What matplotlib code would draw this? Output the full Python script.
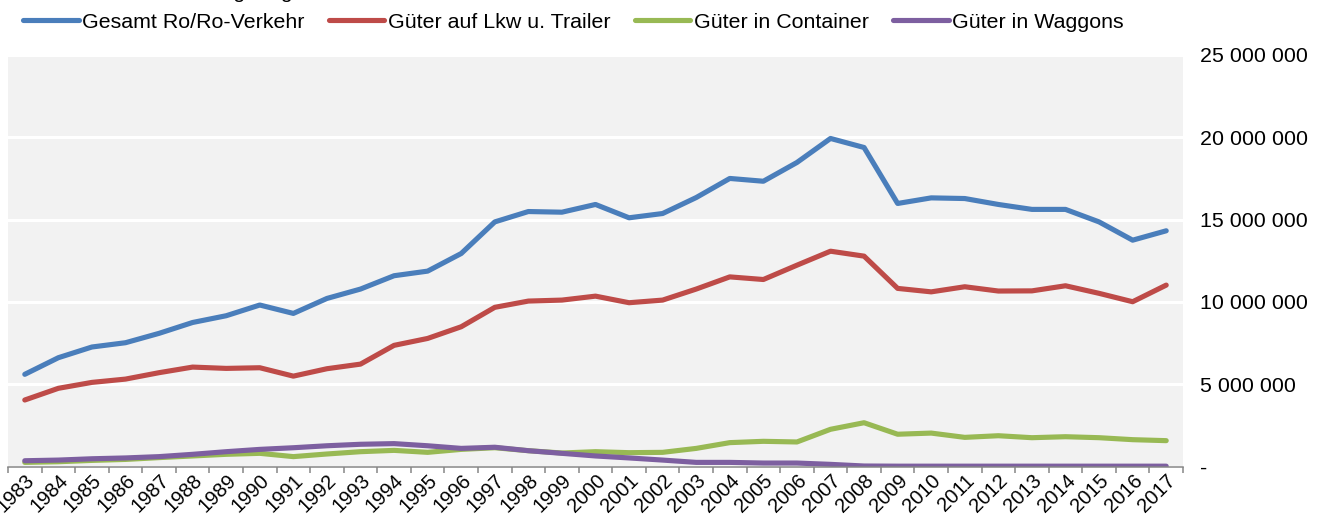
import matplotlib
matplotlib.use("Agg")
import matplotlib.pyplot as plt
from matplotlib.ticker import FuncFormatter, FixedLocator

# Ro/Ro-Verkehr, Tonnen je Jahr
years = list(range(1983, 2018))
gesamt = [5.60, 6.61, 7.26, 7.52, 8.09, 8.75, 9.16, 9.81, 9.30, 10.21,
          10.78, 11.59, 11.87, 12.94, 14.86, 15.49, 15.45, 15.92, 15.11, 15.37,
          16.34, 17.50, 17.33, 18.47, 19.93, 19.38, 15.98, 16.32, 16.28, 15.92,
          15.62, 15.62, 14.86, 13.75, 14.32]
lkw = [4.04, 4.75, 5.11, 5.31, 5.70, 6.04, 5.96, 6.00, 5.49, 5.94,
       6.22, 7.36, 7.78, 8.49, 9.67, 10.05, 10.11, 10.35, 9.95, 10.11,
       10.78, 11.52, 11.36, 12.23, 13.08, 12.78, 10.82, 10.61, 10.92, 10.66,
       10.67, 10.98, 10.52, 10.01, 11.02]
container = [0.25, 0.29, 0.37, 0.43, 0.54, 0.64, 0.74, 0.80, 0.60, 0.76,
             0.90, 0.98, 0.86, 1.04, 1.14, 0.96, 0.82, 0.90, 0.84, 0.86,
             1.10, 1.45, 1.53, 1.49, 2.26, 2.66, 1.96, 2.03, 1.77, 1.87,
             1.75, 1.81, 1.75, 1.63, 1.57]
waggons = [0.35, 0.39, 0.47, 0.52, 0.60, 0.74, 0.90, 1.04, 1.14, 1.26,
           1.35, 1.39, 1.26, 1.10, 1.17, 0.96, 0.80, 0.64, 0.52, 0.39,
           0.25, 0.25, 0.21, 0.21, 0.13, 0.03, 0.02, 0.02, 0.02, 0.02,
           0.02, 0.02, 0.02, 0.02, 0.02]
series_names = ["Gesamt Ro/Ro-Verkehr", "Güter auf Lkw u. Trailer",
                "Güter in Container", "Güter in Waggons"]
y_ticks = [0, 5e6, 10e6, 15e6, 20e6, 25e6]

colors = ["#4a7ebb", "#be4b48", "#98b954", "#7d5fa0"]
FS = 15.4
plt.rcParams['font.family'] = ['Liberation Sans', 'DejaVu Sans']

W, H = 1323, 516
fig = plt.figure(figsize=(W / 100, H / 100), dpi=100)
ax = fig.add_axes([8 / W, (H - 466.5) / H, 1175 / W, 411.5 / H])
ax.set_facecolor("#f2f2f2")

x = list(range(len(years)))
lines = []
for vals, c, name in zip([gesamt, lkw, container, waggons], colors, series_names):
    ln, = ax.plot(x, [v * 1e6 for v in vals], color=c, lw=3.7,
                  solid_capstyle="round", solid_joinstyle="round", label=name)
    lines.append(ln)

ax.set_xlim(-0.5, len(years) - 0.5)
ax.set_ylim(0, 25e6)

# y axis on the right, gridlines white
ax.yaxis.tick_right()
ax.set_yticks(y_ticks)
ax.yaxis.set_major_formatter(FuncFormatter(
    lambda v, p: "-" if v == 0 else f"{int(v):,}".replace(",", " ")))
ax.tick_params(axis="y", length=0, pad=12, labelsize=FS)
for t in ax.get_yticklabels():
    t.set_horizontalalignment("left")
ax.set_axisbelow(True)
ax.grid(axis="y", color="white", lw=2.2)

# category axis: ticks between categories, labels at the centres
ax.xaxis.set_major_locator(FixedLocator([i - 0.5 for i in range(len(years) + 1)]))
ax.xaxis.set_minor_locator(FixedLocator(x))
ax.set_xticklabels([], minor=False)
ax.set_xticklabels([str(y) for y in years], minor=True, rotation=45,
                   ha="right", va="top", rotation_mode="anchor", fontsize=14.5)
ax.tick_params(axis="x", which="major", length=4, width=1.1, color="#868686")
ax.tick_params(axis="x", which="minor", length=0, pad=3)

for s in ["left", "right", "top"]:
    ax.spines[s].set_visible(False)
ax.spines["bottom"].set_color("#868686")
ax.spines["bottom"].set_linewidth(1.1)

fig.legend(handles=lines, loc="center left", bbox_to_anchor=(23 / W, 1 - 22 / H),
           ncol=4, frameon=False, fontsize=FS, borderpad=0, borderaxespad=0,
           handlelength=2.6, handletextpad=0.15, columnspacing=1.15)

# title above, cut off by the picture edge
fig.text(174 / W, 1 + 1.5 / H, "Ladungsträgern", fontsize=FS, ha="left", va="baseline")

fig.savefig("out.png", dpi=100)
